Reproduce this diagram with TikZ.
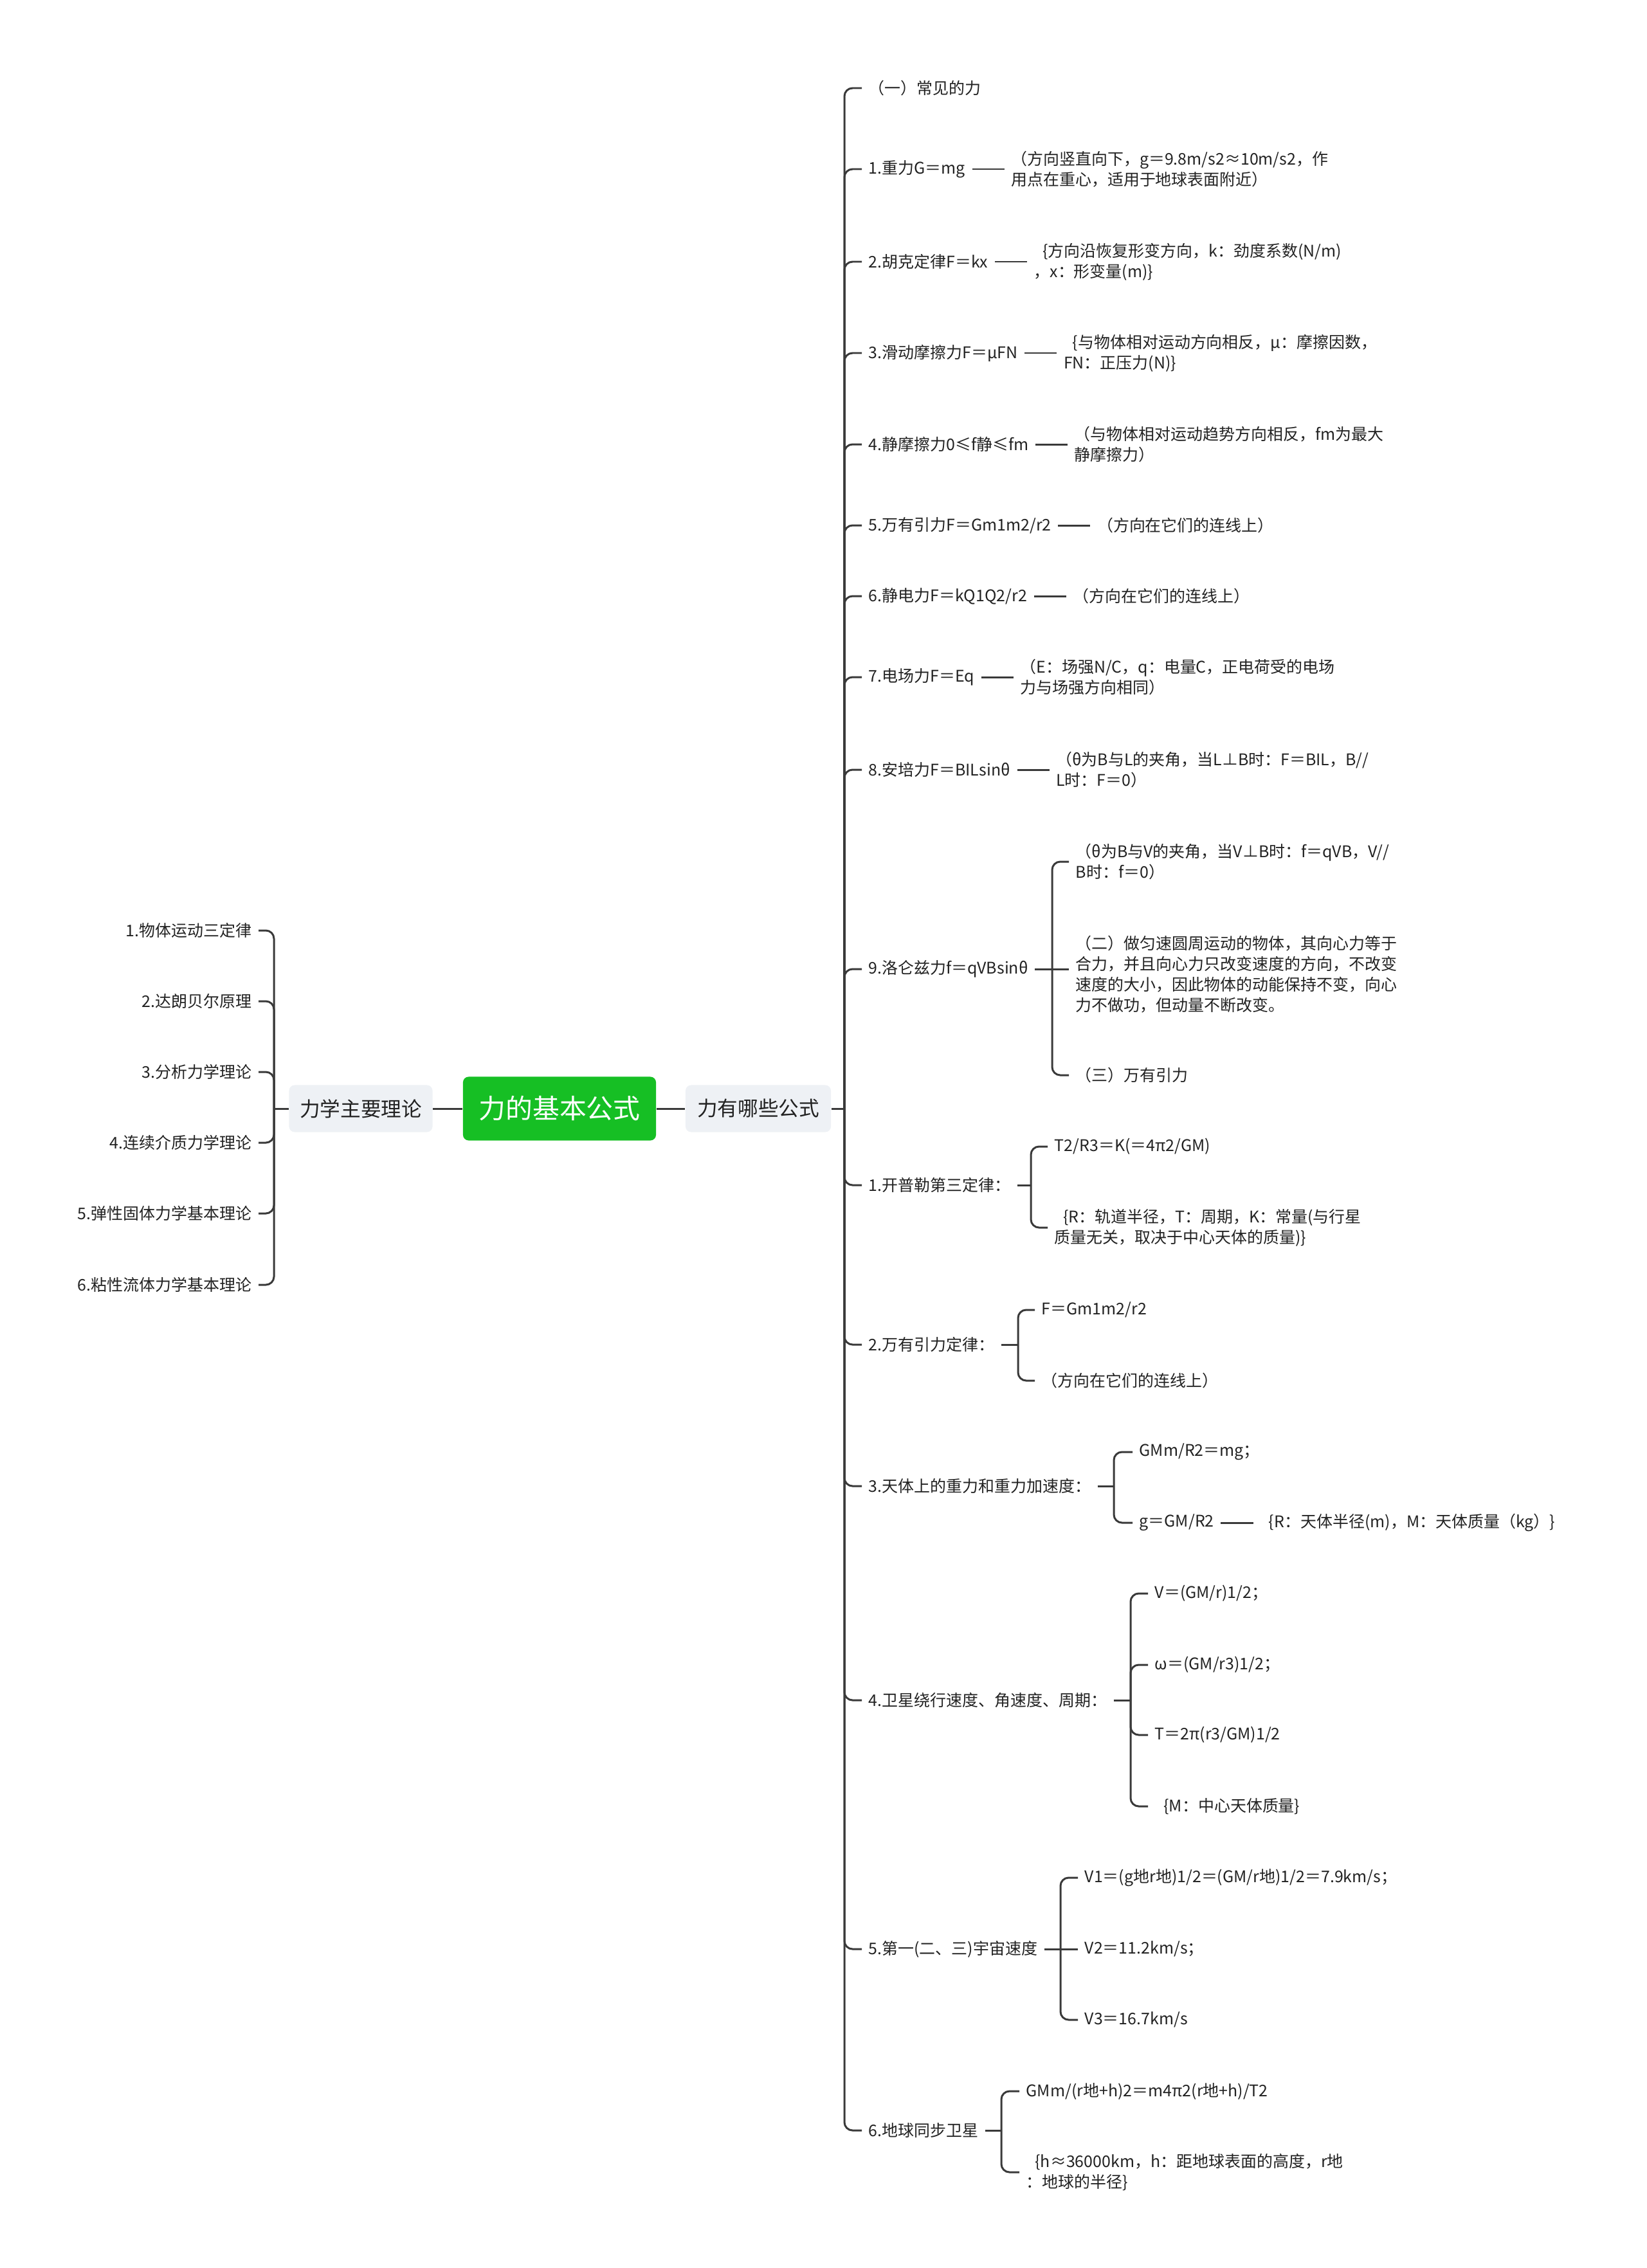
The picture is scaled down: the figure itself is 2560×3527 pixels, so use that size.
\documentclass[tikz,border=0pt]{standalone}
\usepackage{fontspec}
\setmainfont{Noto Sans CJK SC}
\usetikzlibrary{positioning}
\definecolor{rootgreen}{RGB}{22,191,36}
\definecolor{topicgray}{RGB}{238,241,245}
\definecolor{linegray}{RGB}{58,58,58}
\definecolor{textgray}{RGB}{34,34,34}
\newcommand{\lbr}{\hspace{0.55em}\{}
\tikzset{
    rootbox/.style={
        fill=rootgreen,
        rounded corners=2.5pt,
        text=white,
        minimum width=3cm,
        minimum height=0.99cm,
        font=\fontsize{11.9}{14}\selectfont
    },
    % 二级主题
    topicbox/.style={
        fill=topicgray,
        rounded corners=2.5pt,
        text=textgray,
        minimum height=0.73cm,
        font=\fontsize{9}{11}\selectfont
    },
    item/.style={
        text=textgray,
        inner sep=1mm,
        align=left,
        font=\fontsize{7.1}{9.1}\selectfont
    },
    link/.style={
        draw=linegray,
        line width=0.85pt,
        rounded corners=3.6pt
    }
}
\begin{document}
\begin{tikzpicture}[x=0.01cm,y=-0.01cm]
    \useasboundingbox (0,0) rectangle (2560,3527);
    \node[rootbox] (root) at (870,1724) {力的基本公式};
    \node[topicbox,minimum width=2.23cm] (subL) at (561,1724) {力学主要理论};
    \node[topicbox,minimum width=2.26cm] (subR) at (1179,1724) {力有哪些公式};
    \draw[link] (root.west) -- (subL.east);
    \draw[link] (root.east) -- (subR.west);

    % left side
    \node[item,anchor=east] (m1) at (402,1447) {1.物体运动三定律};
    \node[item,anchor=east] (m2) at (402,1557) {2.达朗贝尔原理};
    \node[item,anchor=east] (m3) at (402,1667) {3.分析力学理论};
    \node[item,anchor=east] (m4) at (402,1777) {4.连续介质力学理论};
    \node[item,anchor=east] (m5) at (402,1887) {5.弹性固体力学基本理论};
    \node[item,anchor=east] (m6) at (402,1998) {6.粘性流体力学基本理论};
    \coordinate (jL) at (426,1724);
    \draw[link] (subL.west) -- (jL);
    \foreach \n in {m1,m2,m3,m4,m5,m6}
        \draw[link] (jL) |- (\n.east);

    % right side
    \node[item,anchor=west] (t0) at (1340,137) {（一）常见的力};
    \node[item,anchor=west] (t1) at (1340,263) {1.重力G＝mg};
    \node[item,anchor=west] (t2) at (1340,407) {2.胡克定律F＝kx};
    \node[item,anchor=west] (t3) at (1340,549) {3.滑动摩擦力F＝μFN};
    \node[item,anchor=west] (t4) at (1340,691) {4.静摩擦力0≤f静≤fm};
    \node[item,anchor=west] (t5) at (1340,817) {5.万有引力F＝Gm1m2/r2};
    \node[item,anchor=west] (t6) at (1340,927) {6.静电力F＝kQ1Q2/r2};
    \node[item,anchor=west] (t7) at (1340,1053) {7.电场力F＝Eq};
    \node[item,anchor=west] (t8) at (1340,1197) {8.安培力F＝BILsinθ};
    \node[item,anchor=west] (t9) at (1340,1507) {9.洛仑兹力f＝qVBsinθ};
    \node[item,anchor=west] (t10) at (1340,1843) {1.开普勒第三定律：};
    \node[item,anchor=west] (t11) at (1340,2091) {2.万有引力定律：};
    \node[item,anchor=west] (t12) at (1340,2311) {3.天体上的重力和重力加速度：};
    \node[item,anchor=west] (t13) at (1340,2644) {4.卫星绕行速度、角速度、周期：};
    \node[item,anchor=west] (t14) at (1340,3031) {5.第一(二、三)宇宙速度};
    \node[item,anchor=west] (t15) at (1340,3313) {6.地球同步卫星};
    \coordinate (jR) at (1313,1724);
    \draw[link] (subR.east) -- (jR);
    \foreach \n in {t0,t1,t2,t3,t4,t5,t6,t7,t8,t9,t10,t11,t12,t13,t14,t15}
        \draw[link] (jR) |- (\n.west);

    \node[item,right=0.5cm of t1] (t1d) {（方向竖直向下，g＝9.8m/s2≈10m/s2，作\\用点在重心，适用于地球表面附近）};
    \node[item,right=0.5cm of t2] (t2d) {\lbr 方向沿恢复形变方向，k：劲度系数(N/m)\\，x：形变量(m)\}};
    \node[item,right=0.5cm of t3] (t3d) {\lbr 与物体相对运动方向相反，μ：摩擦因数，\\FN：正压力(N)\}};
    \node[item,right=0.5cm of t4] (t4d) {（与物体相对运动趋势方向相反，fm为最大\\静摩擦力）};
    \node[item,right=0.5cm of t5] (t5d) {（方向在它们的连线上）};
    \node[item,right=0.5cm of t6] (t6d) {（方向在它们的连线上）};
    \node[item,right=0.5cm of t7] (t7d) {（E：场强N/C，q：电量C，正电荷受的电场\\力与场强方向相同）};
    \node[item,right=0.5cm of t8] (t8d) {（θ为B与L的夹角，当L⊥B时：F＝BIL，B//\\L时：F＝0）};
    \foreach \n in {t1,t2,t3,t4,t5,t6,t7,t8}
        \draw[link] (\n) -- (\n d);

    \node[item,anchor=west] (t9a) at (1662,1340) {（θ为B与V的夹角，当V⊥B时：f＝qVB，V//\\B时：f＝0）};
    \node[item,anchor=west] (t9b) at (1662,1515) {（二）做匀速圆周运动的物体，其向心力等于\\合力，并且向心力只改变速度的方向，不改变\\速度的大小，因此物体的动能保持不变，向心\\力不做功，但动量不断改变。};
    \node[item,anchor=west] (t9c) at (1662,1672) {（三）万有引力};
    \coordinate (j9) at (1636,1507);
    \draw[link] (t9.east) -- (j9);
    \draw[link] (j9) |- (t9a.west);
    \draw[link] (j9) -- (j9 -| t9b.west);
    \draw[link] (j9) |- (t9c.west);

    \node[item,anchor=west] (t10a) at (1629,1783) {T2/R3＝K(＝4π2/GM)};
    \node[item,anchor=west] (t10b) at (1629,1909) {\lbr R：轨道半径，T：周期，K：常量(与行星\\质量无关，取决于中心天体的质量)\}};
    \coordinate (j10) at (1603,1843);
    \draw[link] (t10.east) -- (j10);
    \draw[link] (j10) |- (t10a.west);
    \draw[link] (j10) |- (t10b.west);

    \node[item,anchor=west] (t11a) at (1609,2037) {F＝Gm1m2/r2};
    \node[item,anchor=west] (t11b) at (1609,2147) {（方向在它们的连线上）};
    \coordinate (j11) at (1583,2091);
    \draw[link] (t11.east) -- (j11);
    \draw[link] (j11) |- (t11a.west);
    \draw[link] (j11) |- (t11b.west);

    \node[item,anchor=west] (t12a) at (1761,2258) {GMm/R2＝mg；};
    \node[item,anchor=west] (t12b) at (1761,2368) {g＝GM/R2};
    \node[item,right=0.5cm of t12b] (t12c) {\lbr R：天体半径(m)，M：天体质量（kg）\}};
    \coordinate (j12) at (1732,2311);
    \draw[link] (t12.east) -- (j12);
    \draw[link] (j12) |- (t12a.west);
    \draw[link] (j12) |- (t12b.west);
    \draw[link] (t12b) -- (t12c);

    \node[item,anchor=west] (t13a) at (1785,2478) {V＝(GM/r)1/2；};
    \node[item,anchor=west] (t13b) at (1785,2589) {ω＝(GM/r3)1/2；};
    \node[item,anchor=west] (t13c) at (1785,2698) {T＝2π(r3/GM)1/2};
    \node[item,anchor=west] (t13d) at (1785,2809) {\lbr M：中心天体质量\}};
    \coordinate (j13) at (1758,2644);
    \draw[link] (t13.east) -- (j13);
    \foreach \n in {t13a,t13b,t13c,t13d}
        \draw[link] (j13) |- (\n.west);

    \node[item,anchor=west] (t14a) at (1676,2920) {V1＝(g地r地)1/2＝(GM/r地)1/2＝7.9km/s；};
    \node[item,anchor=west] (t14b) at (1676,3031) {V2＝11.2km/s；};
    \node[item,anchor=west] (t14c) at (1676,3141) {V3＝16.7km/s};
    \coordinate (j14) at (1649,3031);
    \draw[link] (t14.east) -- (j14);
    \draw[link] (j14) |- (t14a.west);
    \draw[link] (j14) -- (t14b.west);
    \draw[link] (j14) |- (t14c.west);

    \node[item,anchor=west] (t15a) at (1585,3252) {GMm/(r地+h)2＝m4π2(r地+h)/T2};
    \node[item,anchor=west] (t15b) at (1585,3378) {\lbr h≈36000km，h：距地球表面的高度，r地\\：地球的半径\}};
    \coordinate (j15) at (1557,3313);
    \draw[link] (t15.east) -- (j15);
    \draw[link] (j15) |- (t15a.west);
    \draw[link] (j15) |- (t15b.west);
\end{tikzpicture}
\end{document}
